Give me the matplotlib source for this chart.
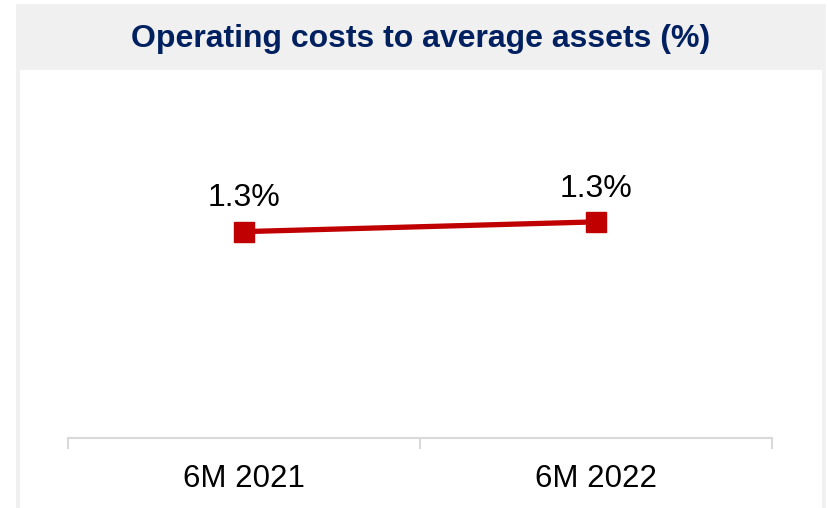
import matplotlib.pyplot as plt
from matplotlib.patches import Rectangle

# data
periods = ['6M 2021', '6M 2022']
cost_ratio = [1.27, 1.33]
point_labels = ['1.3%', '1.3%']

W, H = 829, 508
fig = plt.figure(figsize=(W / 100, H / 100), dpi=100)
fig.patch.set_facecolor('white')

# gray frame / title band, then white panel (kept behind the axes)
fig.patches.append(Rectangle((16 / W, 0), 810 / W, 1 - 4 / H, transform=fig.transFigure,
                             facecolor='#f0f0f0', edgecolor='none', zorder=-10))
fig.patches.append(Rectangle((20 / W, 0), 802 / W, 1 - 70 / H, transform=fig.transFigure,
                             facecolor='white', edgecolor='none', zorder=-9))

fig.text(421 / W, 1 - 39 / H, 'Operating costs to average assets (%)', ha='center', va='center',
         fontsize=23, fontweight='bold', color='#002060', family='Liberation Sans')

# axes: bottom at y=438 px, top chosen so that 2.0 maps to y=113 px
ax = fig.add_axes([68 / W, 1 - 438 / H, 704 / W, 325 / H])
ax.set_facecolor('none')
x = list(range(len(periods)))
ax.plot(x, cost_ratio, color='#c00000', lw=3.8, marker='s', markersize=14.5,
        markerfacecolor='#c00000', markeredgecolor='#c00000', solid_capstyle='butt')
ax.set_xlim(-0.5, len(periods) - 0.5)
ax.set_ylim(0, 2.0)

for xi, yi, lab in zip(x, cost_ratio, point_labels):
    ax.annotate(lab, (xi, yi), xytext=(0, 24), textcoords='offset points', ha='center',
                va='center', fontsize=23, family='Liberation Sans', color='black')

for s in ['top', 'right', 'left']:
    ax.spines[s].set_visible(False)
ax.spines['bottom'].set_color('#d9d9d9')
ax.spines['bottom'].set_linewidth(1.5)
ax.set_yticks([])
ax.set_xticks(x)
ax.set_xticklabels(periods, fontsize=22.5, family='Liberation Sans')
ax.tick_params(axis='x', which='major', length=0, pad=19)
ax.set_xticks([-0.5, 0.5, 1.5], minor=True)
ax.tick_params(axis='x', which='minor', length=8, width=1.5, color='#d9d9d9')

fig.savefig('out.png', dpi=100)
